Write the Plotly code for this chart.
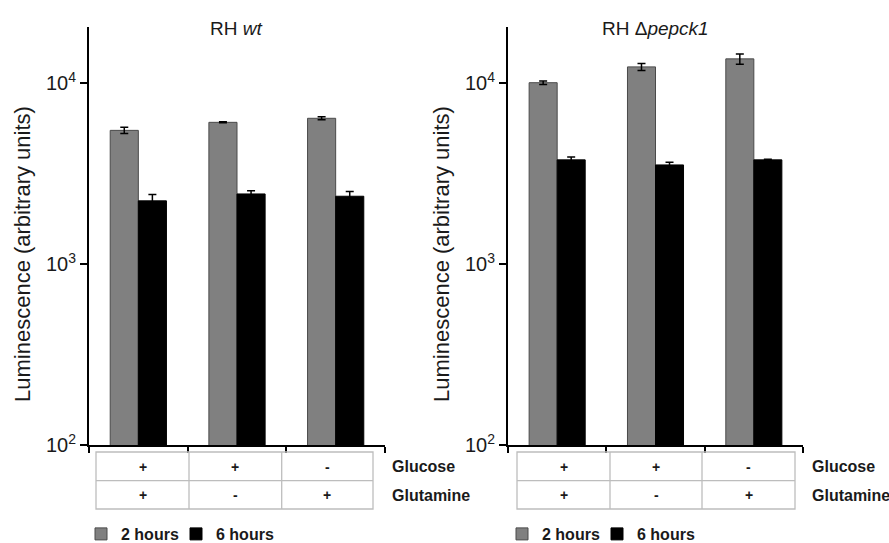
import plotly.graph_objects as go

conditions = ["C1", "C2", "C3"]
glucose = ["+", "+", "-"]
glutamine = ["+", "-", "+"]

wt_2h = [5480, 6070, 6390]
wt_2h_err = [215, 40, 120]
wt_6h = [2235, 2440, 2370]
wt_6h_err = [185, 105, 150]

ko_2h = [10050, 12290, 13610]
ko_2h_err = [215, 550, 890]
ko_6h = [3765, 3530, 3765]
ko_6h_err = [145, 120, 25]

FONT = "Arial, Liberation Sans, sans-serif"
W, H = 889, 543
GRAY = "#808080"
TXT = "#1a1a1a"

fig = go.Figure()

def add_panel(xa, ya, v2, e2, v6, e6, legend):
    fig.add_trace(go.Bar(x=conditions, y=v2, name="2 hours", xaxis=xa, yaxis=ya,
                         marker=dict(color=GRAY, line=dict(color="#4a4a4a", width=1)),
                         error_y=dict(type="data", array=e2, color="black", thickness=1.5, width=4),
                         legend=legend))
    fig.add_trace(go.Bar(x=conditions, y=v6, name="6 hours", xaxis=xa, yaxis=ya,
                         marker=dict(color="black", line=dict(color="black", width=1)),
                         error_y=dict(type="data", array=e6, color="black", thickness=1.5, width=4),
                         legend=legend))
    # invisible spacer entry so the last legend label is not clipped
    fig.add_trace(go.Scatter(x=[None], y=[None], name=" ", xaxis=xa, yaxis=ya, legend=legend,
                             mode="markers",
                             marker=dict(color="rgba(0,0,0,0)", size=1, line=dict(width=0, color="rgba(0,0,0,0)")),
                             hoverinfo="skip", showlegend=True))

add_panel("x", "y", wt_2h, wt_2h_err, wt_6h, wt_6h_err, "legend")
add_panel("x2", "y2", ko_2h, ko_2h_err, ko_6h, ko_6h_err, "legend2")

ydom = [1 - 445 / H, 1 - 27 / H]
yax = dict(type="log", range=[2, 4.31], domain=ydom, showline=True, linecolor="black",
           linewidth=2, ticks="outside", ticklen=7, tickwidth=2, tickcolor="black",
           tickvals=[100, 1000, 10000], ticktext=["10<sup>2</sup>", "10<sup>3</sup>", "10<sup>4</sup>"],
           tickfont=dict(size=20, color=TXT, family=FONT), showgrid=False, zeroline=False)
xax = dict(type="category", showline=True, linecolor="black", linewidth=2, ticks="outside",
           ticklen=6, tickwidth=2, tickcolor="black", tickson="boundaries", showticklabels=False,
           showgrid=False, zeroline=False, range=[-0.5, 2.5])

legend_font = dict(size=16, family=FONT, color=TXT, weight="bold")
fig.update_layout(
    width=W, height=H, margin=dict(l=0, r=0, t=0, b=0, autoexpand=False),
    plot_bgcolor="white", paper_bgcolor="white",
    barmode="group", bargap=0.43, bargroupgap=0,
    font=dict(family=FONT, color=TXT),
    xaxis=dict(xax, domain=[89 / W, 385 / W], anchor="y"),
    yaxis=dict(yax, anchor="x"),
    xaxis2=dict(xax, domain=[508 / W, 803 / W], anchor="y2"),
    yaxis2=dict(yax, anchor="x2"),
    legend=dict(orientation="h", x=81 / W, y=1 - 534 / H, xanchor="left", yanchor="middle",
                font=legend_font, entrywidth=50, traceorder="normal"),
    legend2=dict(orientation="h", x=502 / W, y=1 - 534 / H, xanchor="left", yanchor="middle",
                 font=legend_font, entrywidth=50, traceorder="normal"),
)

shapes = []
annotations = []
tables = [(96, 373, [189, 281.7], 390, 22, 236), (517, 795, [610, 702], 810, 441, 655)]
y_top, y_mid, y_bot = 452, 480.7, 509
rows = [(glucose, 466.5, "Glucose"), (glutamine, 495.5, "Glutamine")]
for (x0, x1, divs, lab_x, ytitle_x, title_x) in tables:
    line = dict(color="#bdbdbd", width=1.3)
    shapes.append(dict(type="rect", xref="paper", yref="paper", x0=x0 / W, x1=x1 / W,
                       y0=1 - y_top / H, y1=1 - y_bot / H, line=line))
    shapes.append(dict(type="line", xref="paper", yref="paper", x0=x0 / W, x1=x1 / W,
                       y0=1 - y_mid / H, y1=1 - y_mid / H, line=line))
    for d in divs:
        shapes.append(dict(type="line", xref="paper", yref="paper", x0=d / W, x1=d / W,
                           y0=1 - y_top / H, y1=1 - y_bot / H, line=line))
    edges = [x0] + divs + [x1]
    centers = [(edges[i] + edges[i + 1]) / 2 for i in range(3)]
    for vals, yy, lab in rows:
        for c, v in zip(centers, vals):
            annotations.append(dict(text=v, x=c / W, y=1 - yy / H, xref="paper", yref="paper",
                                    xanchor="center", yanchor="middle", showarrow=False,
                                    font=dict(size=14, family=FONT, color=TXT, weight="bold")))
        annotations.append(dict(text=lab, x=lab_x / W, y=1 - yy / H, xref="paper", yref="paper",
                                xanchor="left", yanchor="middle", showarrow=False,
                                font=dict(size=16, family=FONT, color=TXT, weight="bold")))
    annotations.append(dict(text="Luminescence (arbitrary units)", textangle=-90,
                            x=ytitle_x / W, y=1 - 254 / H, xref="paper", yref="paper",
                            xanchor="center", yanchor="middle", showarrow=False,
                            font=dict(size=22, family=FONT, color=TXT)))

annotations.append(dict(text="RH <i>wt</i>", x=236 / W, y=1 - 29 / H, xref="paper", yref="paper",
                        xanchor="center", yanchor="middle", showarrow=False,
                        font=dict(size=19, family=FONT, color=TXT)))
annotations.append(dict(text="RH Δ<i>pepck1</i>", x=655 / W, y=1 - 29 / H, xref="paper", yref="paper",
                        xanchor="center", yanchor="middle", showarrow=False,
                        font=dict(size=19, family=FONT, color=TXT)))

fig.update_layout(shapes=shapes, annotations=annotations)
fig.write_html("out.html")
